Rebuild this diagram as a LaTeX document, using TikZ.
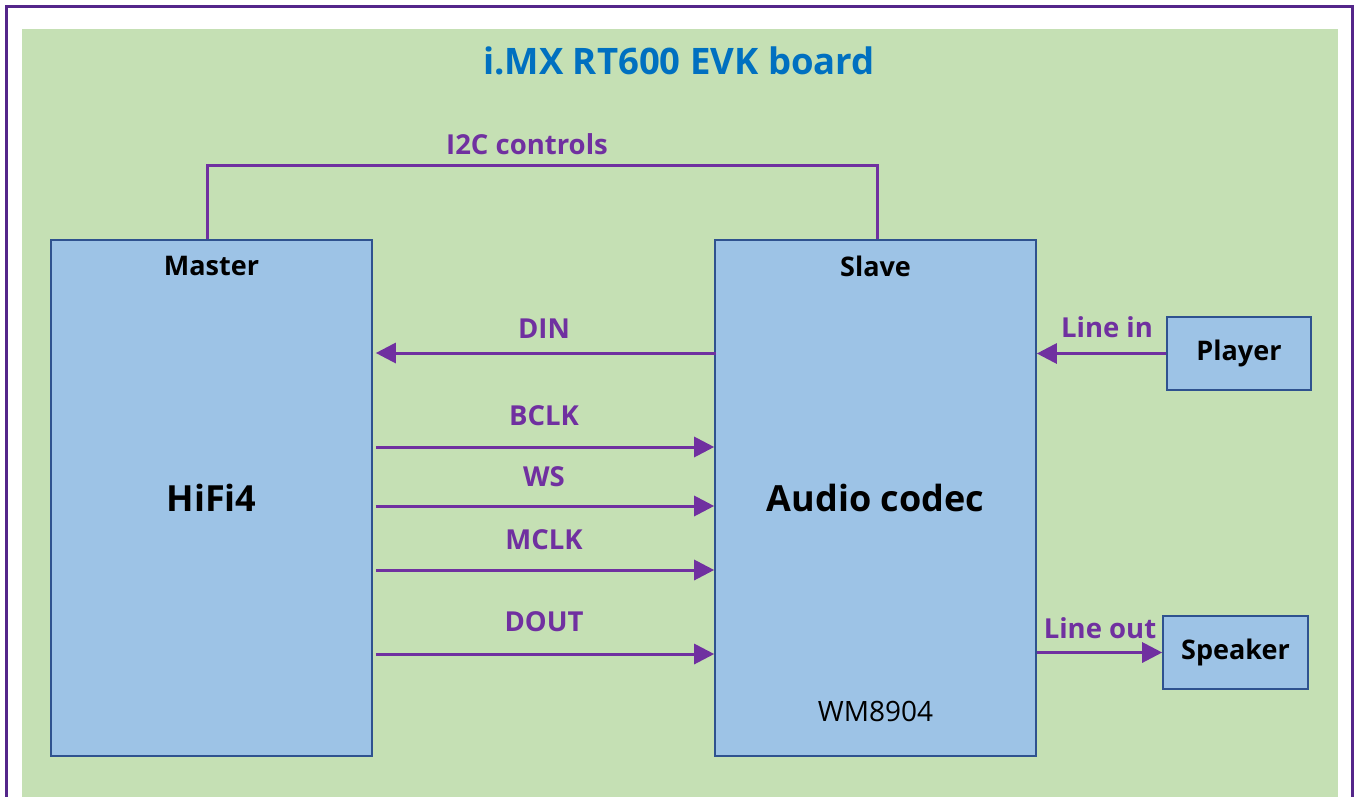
\documentclass[tikz,border=0pt]{standalone}
\usepackage{fontspec}
\setmainfont{Open Sans}
\usetikzlibrary{positioning, arrows.meta}
\definecolor{boardgreen}{RGB}{197,224,180}
\definecolor{chipblue}{RGB}{157,195,230}
\definecolor{chipedge}{RGB}{47,82,143}
\definecolor{sigpurple}{RGB}{112,48,160}
\definecolor{framepurple}{RGB}{84,38,138}
\definecolor{titleblue}{RGB}{0,112,192}
\tikzset{
  chip/.style    ={rectangle, draw=chipedge, line width=1.6pt, fill=chipblue,
                   inner sep=0pt, font=\fontsize{36}{40}\selectfont\bfseries},
  extbox/.style  ={chip, font=\fontsize{27}{30}\selectfont\bfseries},
  sig/.style     ={-{Triangle[length=20pt, width=20pt]}, line width=3pt, color=sigpurple},
  wire/.style    ={line width=3pt, color=sigpurple},
  siglabel/.style={font=\fontsize{27.5}{30}\selectfont\bfseries, text=sigpurple},
  roletag/.style ={font=\fontsize{27}{30}\selectfont\bfseries},
}

\begin{document}
\begin{tikzpicture}[x=1pt, y=-1pt]
\useasboundingbox (0,0) rectangle (1354,796);
% board outline
\draw[framepurple, line width=3pt] (6,6) rectangle (1352,820);
\node[rectangle, fill=boardgreen, inner sep=0pt, minimum width=1316pt, minimum height=800pt,
      anchor=north west] (board) at (22,29) {};
\node[font=\fontsize{36.5}{40}\selectfont\bfseries, text=titleblue] (title) at (679,61) {i.MX RT600 EVK board};

% processor and codec
\node[chip, minimum width=321pt, minimum height=516pt,
      label={[roletag, anchor=north, yshift=-13pt]north:Master}] (master) at (211.5,498) {HiFi4};
\node[chip, minimum width=321pt, minimum height=516pt,
      label={[roletag, anchor=north, yshift=-13pt]north:Slave}] (slave) at (875.5,498) {Audio codec};
\node[font=\fontsize{28}{30}\selectfont, below=200pt of slave.center] (chipname) {WM8904};

% external devices
\node[extbox, minimum width=144pt, minimum height=73pt] (player) at (1239,353.5) {Player};
\node[extbox, minimum width=145pt, minimum height=73pt] (speaker) at (1235.5,652.5) {Speaker};

% I2C bus
\draw[wire] (master.north -| 207,0) |- (877,165) coordinate (i2cturn) -- (slave.north -| i2cturn);
\node[siglabel] (i2c) at (527,144) {I2C controls};

% serial audio interface
\draw[sig] ([xshift=2pt]slave.west |- 0,353) -- ([xshift=3pt]master.east |- 0,353);
\node[siglabel] (din) at (544,329) {DIN};
\foreach \y/\ly/\name in {447/416/BCLK, 506/477/WS, 570/540/MCLK, 654/622/DOUT} {
  \draw[sig] ([xshift=3pt]master.east |- 0,\y) -- (slave.west |- 0,\y);
  \node[siglabel] (lbl\name) at (544,\ly) {\name};
}

% line in / line out
\draw[sig] (player.west) -- (slave.east |- player.west);
\node[siglabel] (linein) at (1107,327) {Line in};
\draw[sig] (slave.east |- speaker.west) -- (speaker.west);
\node[siglabel] (lineout) at (1100,628) {Line out};
\end{tikzpicture}
\end{document}
